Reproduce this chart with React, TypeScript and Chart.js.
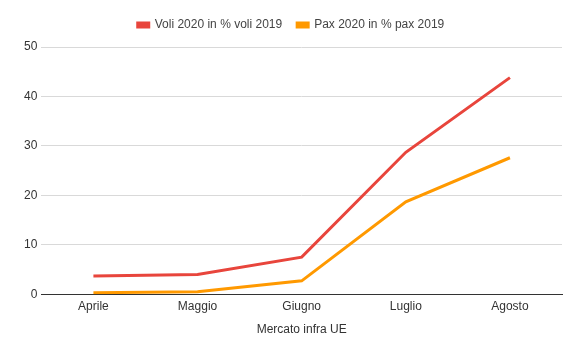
import React, { useEffect, useRef } from "react";
import { Chart, registerables } from "chart.js";

Chart.register(...registerables);

const categories = ["Aprile", "Maggio", "Giugno", "Luglio", "Agosto"];
const voli = [3.7, 4.0, 7.5, 28.7, 43.8];
const pax = [0.3, 0.5, 2.7, 18.7, 27.6];
const yTicks = [0, 10, 20, 30, 40, 50];

const FONT = "Arial, 'Liberation Sans', sans-serif";

const legendSpacer = {
  id: "legendSpacer",
  beforeInit(chart: any) {
    const legend = chart.legend;
    if (!legend) return;
    const origFit = legend.fit;
    legend.fit = function () {
      origFit.call(this);
      this.height += 6;
    };
  },
};

export default function App() {
  const ref = useRef<HTMLCanvasElement>(null);
  useEffect(() => {
    if (!ref.current) return;
    const chart = new Chart(ref.current, {
      type: "line",
      data: {
        labels: categories,
        datasets: [
          {
            label: "Voli 2020 in % voli 2019",
            data: voli,
            borderColor: "#e8453c",
            backgroundColor: "#e8453c",
            borderWidth: 3,
            pointRadius: 0,
            tension: 0,
          },
          {
            label: "Pax 2020 in % pax 2019",
            data: pax,
            borderColor: "#ff9900",
            backgroundColor: "#ff9900",
            borderWidth: 3,
            pointRadius: 0,
            tension: 0,
          },
        ],
      },
      plugins: [legendSpacer],
      options: {
        responsive: false,
        animation: false,
        layout: { padding: { left: 20, right: 18, top: 4, bottom: 21 } },
        plugins: {
          legend: {
            position: "top",
            labels: {
              boxWidth: 11,
              boxHeight: 4,
              color: "#444",
              font: { family: FONT, size: 12 },
              padding: 15,
            },
          },
          tooltip: { enabled: false },
        },
        scales: {
          x: {
            offset: true,
            grid: { display: false, drawTicks: false },
            border: { color: "#333", width: 1 },
            ticks: {
              color: "#333",
              font: { family: FONT, size: 12 },
              padding: 5,
            },
            title: {
              display: true,
              text: "Mercato infra UE",
              color: "#333",
              font: { family: FONT, size: 12 },
              padding: { top: 4, bottom: 0 },
            },
          },
          y: {
            min: 0,
            max: 50,
            afterBuildTicks: (axis: any) => {
              axis.ticks = yTicks.map((v) => ({ value: v }));
            },
            grid: {
              color: (ctx: any) => (ctx.tick && ctx.tick.value === 0 ? "#333" : "#d9d9d9"),
              drawTicks: false,
            },
            border: { display: false },
            ticks: {
              color: "#333",
              font: { family: FONT, size: 12 },
              padding: 4,
            },
          },
        },
      },
    });
    return () => chart.destroy();
  }, []);
  return (
    <div style={{ position: "fixed", left: 0, top: 0, width: 580, height: 358, background: "#fff" }}>
      <canvas ref={ref} width={580} height={358} />
    </div>
  );
}
